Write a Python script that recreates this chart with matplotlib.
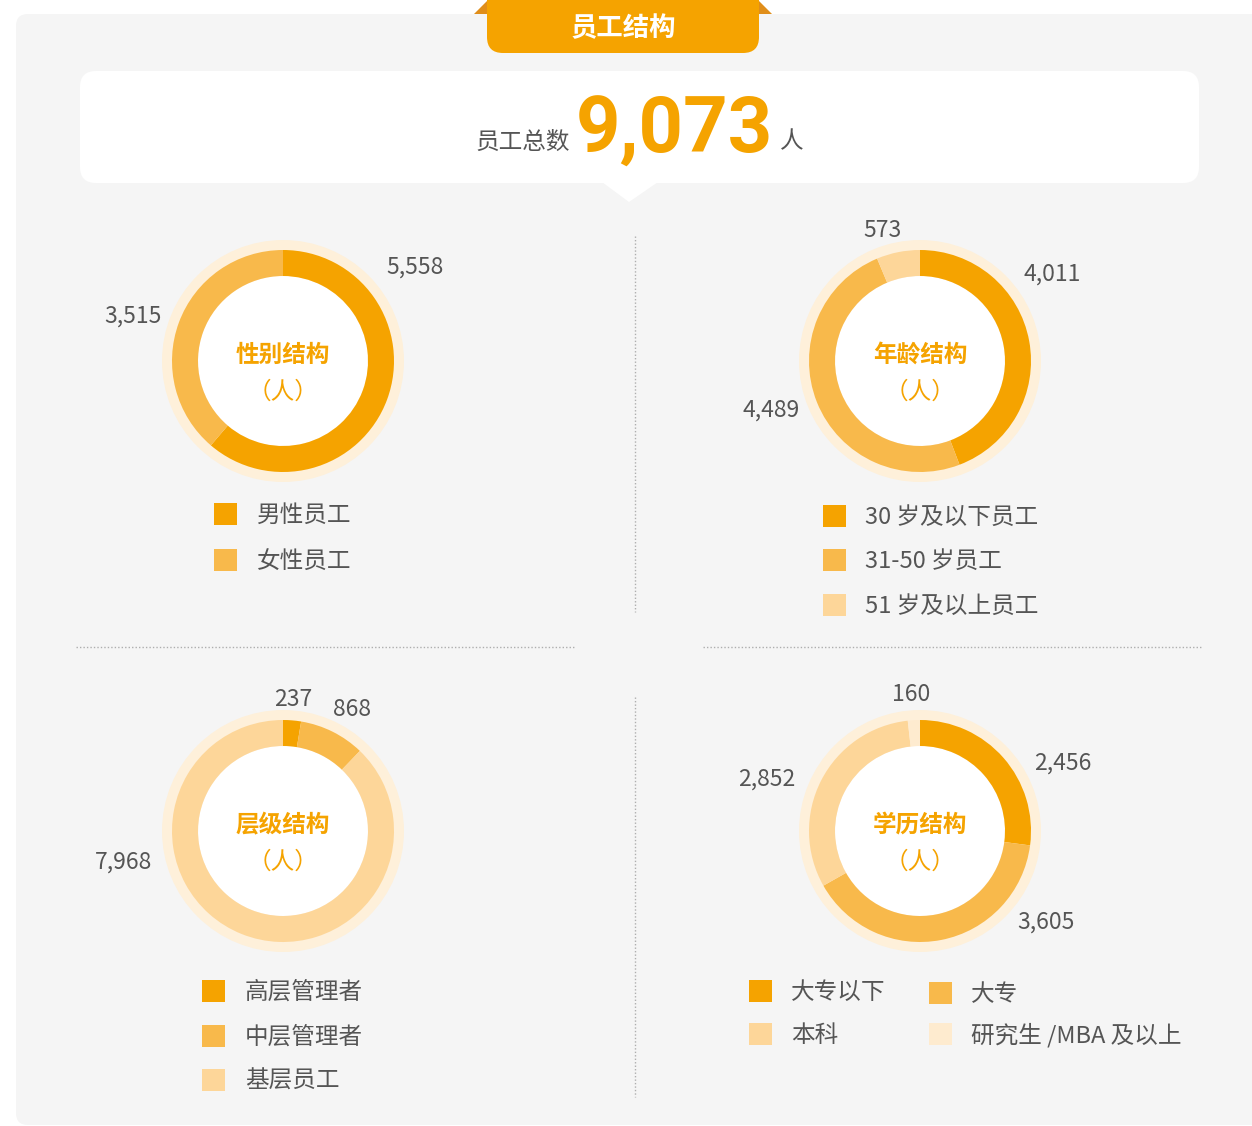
import matplotlib
matplotlib.use("Agg")
import matplotlib.pyplot as plt
from matplotlib.patches import FancyBboxPatch, Polygon, Circle, Rectangle

plt.rcParams['font.family'] = ['Noto Sans CJK SC', 'DejaVu Sans']

# ---------------- data ----------------
total_label = "员工总数"
total_value = 9073
total_unit = "人"
title = "员工结构"

gender_name = "性别结构"
gender_cats = ["男性员工", "女性员工"]
gender_vals = [5558, 3515]

age_name = "年龄结构"
age_cats = ["30 岁及以下员工", "31-50 岁员工", "51 岁及以上员工"]
age_vals = [4011, 4489, 573]

level_name = "层级结构"
level_cats = ["高层管理者", "中层管理者", "基层员工"]
level_vals = [237, 868, 7968]

edu_name = "学历结构"
edu_cats = ["大专以下", "大专", "本科", "研究生 /MBA 及以上"]
edu_vals = [2456, 3605, 2852, 160]

unit_text = "（人）"

# ---------------- style ----------------
C_DARK = '#F5A300'
C_MED = '#F8B94B'
C_LIGHT = '#FDD699'
C_VLIGHT = '#FEEBCF'
C_HALO = '#FEF0DA'
C_PANEL = '#F5F5F5'
C_TEXT = '#555555'
C_FOLD = '#E08E1A'

W, H = 1252, 1126
fig = plt.figure(figsize=(W / 100, H / 100), dpi=100)
fig.patch.set_facecolor('white')

bg = fig.add_axes([0, 0, 1, 1])
bg.set_xlim(0, W)
bg.set_ylim(H, 0)
bg.axis('off')

# panel
bg.add_patch(FancyBboxPatch((16, 14), W, 1111, boxstyle="round,pad=0,rounding_size=12",
                            fc=C_PANEL, ec='none'))
# header folds + tab
bg.add_patch(Polygon([(474, 14), (488, 0), (488, 14)], closed=True, fc=C_FOLD, ec='none'))
bg.add_patch(Polygon([(758, 0), (772, 14), (758, 14)], closed=True, fc=C_FOLD, ec='none'))
bg.add_patch(FancyBboxPatch((487, -30), 272, 83, boxstyle="round,pad=0,rounding_size=16",
                            fc=C_DARK, ec='none'))
bg.text(623, 28.5, title, color='white', fontsize=19, fontweight='bold', ha='center', va='center')

# white total box
bg.add_patch(FancyBboxPatch((80, 71), 1119, 112, boxstyle="round,pad=0,rounding_size=16",
                            fc='white', ec='none'))
bg.add_patch(Polygon([(602, 182), (658, 182), (629, 202)], closed=True, fc='white', ec='none'))
bg.text(570, 142, total_label, color=C_TEXT, fontsize=17, ha='right', va='center')
bg.text(674, 153, f"{total_value:,}", color=C_DARK, fontsize=56, fontweight='bold',
        family=['Roboto', 'DejaVu Sans'], ha='center', va='baseline')
bg.text(780, 142, total_unit, color=C_TEXT, fontsize=17, ha='left', va='center')

# dotted dividers
dot = dict(color='#AEAEAE', lw=1, ls=(0, (1, 1.5)))
bg.plot([635, 635], [236, 612], **dot)
bg.plot([635, 635], [697, 1097], **dot)
bg.plot([76, 575], [647, 647], **dot)
bg.plot([703, 1203], [647, 647], **dot)

R_AX = 126
R_HALO = 121
R_OUT = 111
R_IN = 85


def donut(cx, cy, vals, colors, name, label_offsets):
    ax = fig.add_axes([(cx - R_AX) / W, 1 - (cy + R_AX) / H, 2 * R_AX / W, 2 * R_AX / H])
    ax.add_patch(Circle((0, 0), R_HALO, fc=C_HALO, ec='none', zorder=0))
    ax.pie(vals, colors=colors, radius=R_OUT, startangle=90, counterclock=False,
           wedgeprops=dict(width=R_OUT - R_IN, linewidth=0))
    ax.add_patch(Circle((0, 0), R_IN, fc='white', ec='none', zorder=0.5))
    ax.set_xlim(-R_AX, R_AX)
    ax.set_ylim(-R_AX, R_AX)
    ax.set_aspect('auto')
    ax.axis('off')
    ax.text(0, 6, name, color=C_DARK, fontsize=17, fontweight='bold', ha='center', va='center')
    ax.text(0, -31, unit_text, color=C_DARK, fontsize=17, ha='center', va='center')
    for v, (dx, dy) in zip(vals, label_offsets):
        bg.text(cx + dx, cy + dy + 1.5, f"{v:,}", color=C_TEXT, fontsize=16.5,
                ha='center', va='center')


def legend(cats, colors, xs, ys, tx):
    for c, col, x, y, t in zip(cats, colors, xs, ys, tx):
        bg.add_patch(Rectangle((x, y - 11), 23, 22, fc=col, ec='none'))
        bg.text(t, y + 1.5, c, color=C_TEXT, fontsize=17, ha='left', va='center')


donut(283, 361, gender_vals, [C_DARK, C_MED], gender_name,
      [(132, -95), (-150, -46)])
legend(gender_cats, [C_DARK, C_MED], [214, 214], [514, 560], [257, 257])

donut(920, 361, age_vals, [C_DARK, C_MED, C_LIGHT], age_name,
      [(132, -88), (-149, 48), (-38, -132)])
legend(age_cats, [C_DARK, C_MED, C_LIGHT], [823] * 3, [516, 560, 605], [865] * 3)

donut(283, 831, level_vals, [C_DARK, C_MED, C_LIGHT], level_name,
      [(10, -133), (69, -123), (-160, 30)])
legend(level_cats, [C_DARK, C_MED, C_LIGHT], [202] * 3, [991, 1036, 1080], [245] * 3)

donut(920, 831, edu_vals, [C_DARK, C_MED, C_LIGHT, C_VLIGHT], edu_name,
      [(143, -69), (126, 90), (-153, -53), (-9, -138)])
legend(edu_cats, [C_DARK, C_MED, C_LIGHT, C_VLIGHT], [749, 929, 749, 929],
       [991, 993, 1034, 1034], [791, 971, 791, 971])

fig.savefig("out.png", dpi=100, facecolor='white')
